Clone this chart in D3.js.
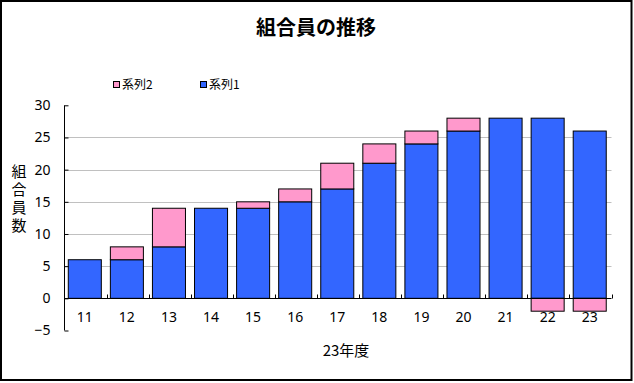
<!DOCTYPE html>
<html><head><meta charset="utf-8">
<script src="https://cdn.jsdelivr.net/npm/d3@7"></script>
<style>
html,body{margin:0;padding:0;background:#fff;}
svg{display:block;font-family:"Noto Sans CJK JP","Noto Sans",sans-serif;}
</style></head>
<body><svg id="c" width="634" height="383"></svg>
<script>
const categories = ["11","12","13","14","15","16","17","18","19","20","21","22","23"];
const series1 = [6,6,8,14,14,15,17,21,24,26,28,28,26];
const series2 = [0,2,6,0,1,2,4,3,2,2,0,-2,-2];
const yTicks = [-5,0,5,10,15,20,25,30];
const seriesNames = ["系列2","系列1"];
const title = "組合員の推移";
const yTitle = "組合員数";
const xTitle = "23年度";

const svg = d3.select("#c");
const blue = "#3366ff", pink = "#ff99cc";

svg.append("rect").attr("x",1).attr("y",1).attr("width",630.5).attr("height",379)
  .attr("fill","#fff").attr("stroke","#000").attr("stroke-width",2);

const x = d3.scaleBand().domain(categories).range([64.5,611.5]).padding(0);
const y = d3.scaleLinear().domain([-5,30]).range([330.5,105.3]);
const bw = x.bandwidth();

// gridlines
svg.append("g").selectAll("line").data(yTicks.filter(t=>t>0 && t<30)).join("line")
  .attr("x1",64.5).attr("x2",611.5).attr("y1",d=>Math.round(y(d))+0.5).attr("y2",d=>Math.round(y(d))+0.5)
  .attr("stroke","#c0c0c0").attr("stroke-width",1);

// bars
const data = categories.map((c,i)=>({c, s1:series1[i], s2:series2[i]}));
const bx = d => x(d.c) + bw*0.09;
const bwid = bw*0.785;
svg.append("g").selectAll("rect").data(data).join("rect")
  .attr("x",bx).attr("width",bwid)
  .attr("y",d=>y(d.s1)).attr("height",d=>y(0)-y(d.s1))
  .attr("fill",blue).attr("stroke","#000").attr("stroke-width",1);
svg.append("g").selectAll("rect").data(data.filter(d=>d.s2!==0)).join("rect")
  .attr("x",bx).attr("width",bwid)
  .attr("y",d=> d.s2>0 ? y(d.s1+d.s2) : y(0))
  .attr("height",d=> Math.abs(y(d.s2)-y(0)))
  .attr("fill",pink).attr("stroke","#000").attr("stroke-width",1);

// y axis
const yAxis = d3.axisLeft(y).tickValues(yTicks).tickSize(-4).tickPadding(14)
  .tickFormat(d=> d<0 ? "−"+Math.abs(d) : String(d));
const gy = svg.append("g").attr("transform","translate(64.5,0)").call(yAxis);
gy.select(".domain").attr("d",`M-0,${y(30)}H0V${y(-5)}H-0`).attr("stroke","#000");
gy.selectAll(".tick line").attr("x2",4).attr("stroke","#000");
gy.selectAll("text").attr("font-size",14).attr("fill","#000")
  .attr("font-family","'Noto Sans',sans-serif").attr("x",-14).attr("text-anchor","end");

// x axis at 0
const y0 = Math.round(y(0))+0.5;
const gx = svg.append("g").attr("transform",`translate(0,${y0})`);
gx.append("line").attr("x1",64.5).attr("x2",611.5).attr("stroke","#000");
const bounds = categories.map(c=>x(c)).concat([x(categories[categories.length-1])+bw]).slice(1);
gx.selectAll("line.t").data(bounds).join("line").attr("class","t")
  .attr("x1",d=>Math.round(d)+0.5).attr("x2",d=>Math.round(d)+0.5).attr("y1",0).attr("y2",-4).attr("stroke","#000");
svg.append("g").selectAll("text").data(categories).join("text")
  .attr("x",c=>x(c)+bw*0.09+bwid/2).attr("y",322).attr("text-anchor","middle")
  .attr("font-size",14).attr("font-family","'Noto Sans',sans-serif").text(c=>c);

// titles
svg.append("text").attr("x",316).attr("y",35).attr("text-anchor","middle")
  .attr("font-size",20).attr("font-weight","bold").text(title);
svg.append("text").attr("x",19).attr("y",164)
  .attr("style","writing-mode: vertical-rl; letter-spacing: 3px;")
  .attr("font-size",15).text(yTitle);
svg.append("text").attr("x",346).attr("y",356).attr("text-anchor","middle")
  .attr("font-size",15).text(xTitle);

// legend
const leg = [{n:seriesNames[0],c:pink,x:113},{n:seriesNames[1],c:blue,x:200}];
const lg = svg.append("g").selectAll("g").data(leg).join("g");
lg.append("rect").attr("x",d=>d.x+0.5).attr("y",81.5).attr("width",6).attr("height",6)
  .attr("fill",d=>d.c).attr("stroke","#000").attr("stroke-width",1);
lg.append("text").attr("x",d=>d.x+9).attr("y",89).attr("font-size",12).text(d=>d.n);
</script></body></html>
